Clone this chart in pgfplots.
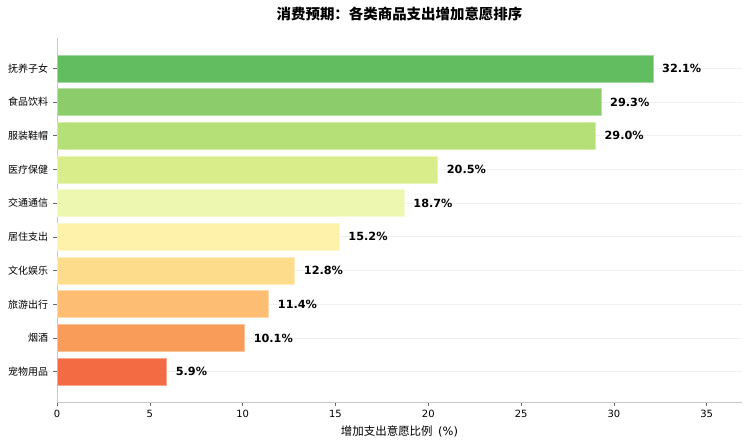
\documentclass[border=0pt]{standalone}
\usepackage{fontspec}
\setmainfont{DejaVu Sans}
\newfontfamily\cjk{Noto Sans CJK SC}
\usepackage{pgfplots}
\pgfplotsset{compat=1.18}
\definecolor{c0}{HTML}{F36B42}
\definecolor{c1}{HTML}{F99B59}
\definecolor{c2}{HTML}{FDBE73}
\definecolor{c3}{HTML}{FDDD8B}
\definecolor{c4}{HTML}{FEF2AA}
\definecolor{c5}{HTML}{EEF7B0}
\definecolor{c6}{HTML}{D9EE8B}
\definecolor{c7}{HTML}{B5DF77}
\definecolor{c8}{HTML}{8DCC6A}
\definecolor{c9}{HTML}{62BC60}
\begin{document}
\begin{tikzpicture}
\path[use as bounding box] (-57bp,-43bp) rectangle (693bp,402bp);
\begin{axis}[
  scale only axis, width=685bp, height=364bp,
  xbar, bar width=0.8,
  xmin=0, xmax=36.9, ymin=-0.9, ymax=9.9,
  axis x line*=bottom, axis y line*=left,
  axis line style={black!22},
  tick align=outside, major tick length=3.5bp,
  tick style={black!60, line width=0.6bp},
  xtick={0,5,...,35},
  ytick={0,...,9},
  yticklabels={宠物用品,烟酒,旅游出行,文化娱乐,居住支出,交通通信,医疗保健,服装鞋帽,食品饮料,抚养子女},
  yticklabel style={font=\cjk\fontsize{10}{10}\selectfont, xshift=-2bp},
  xticklabel style={font=\fontsize{10}{10}\selectfont, yshift=-1bp},
  /pgf/number format/assume math mode=true,
  xlabel={{\cjk 增加支出意愿比例}\, (\%)},
  xlabel style={font=\fontsize{11.5}{11.5}\selectfont, yshift=-1bp},
  ymajorgrids, grid style={black!6, line width=0.8bp},
  point meta=x,
  nodes near coords={\pgfmathprintnumber[fixed,fixed zerofill,precision=1]{\pgfplotspointmeta}\%},
  nodes near coords style={anchor=west, inner sep=0pt, xshift=9bp, font=\bfseries\fontsize{11.3}{11.3}\selectfont, text=black},
  mybar/.style={fill=#1, draw=#1!60!white, line width=0.6bp, bar shift=0pt},
]
\addplot[mybar=c0] coordinates {(5.9,0)};
\addplot[mybar=c1] coordinates {(10.1,1)};
\addplot[mybar=c2] coordinates {(11.4,2)};
\addplot[mybar=c3] coordinates {(12.8,3)};
\addplot[mybar=c4] coordinates {(15.2,4)};
\addplot[mybar=c5] coordinates {(18.7,5)};
\addplot[mybar=c6] coordinates {(20.5,6)};
\addplot[mybar=c7] coordinates {(29.0,7)};
\addplot[mybar=c8] coordinates {(29.3,8)};
\addplot[mybar=c9] coordinates {(32.1,9)};
\end{axis}
\node[font=\cjk\bfseries\fontsize{14.5}{14.5}\selectfont] at (342.5bp,388.5bp) {消费预期：各类商品支出增加意愿排序};
\end{tikzpicture}
\end{document}
